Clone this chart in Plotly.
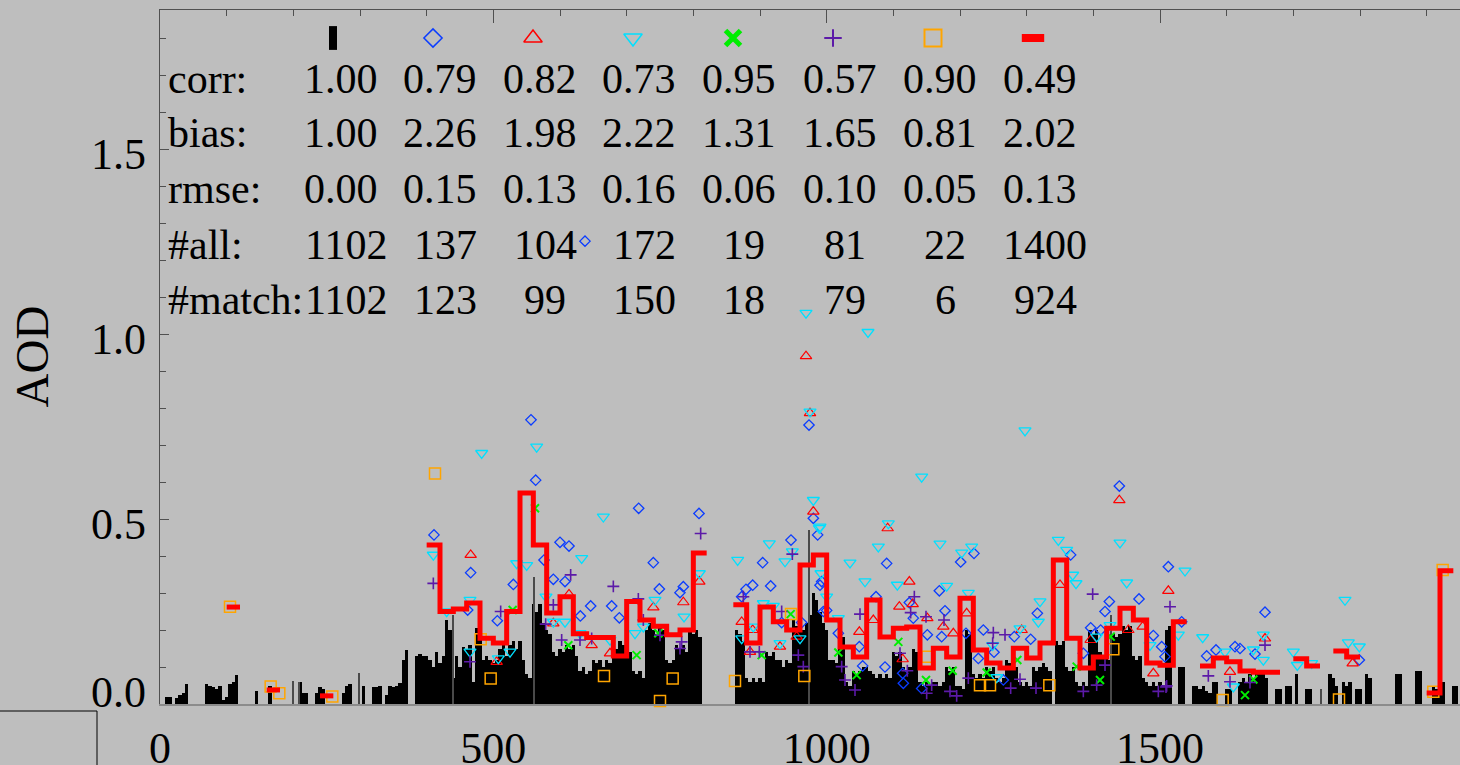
import plotly.graph_objects as go

# ---------------- data ----------------
# black reference series (AOD), sampled on a 5-unit grid from 0 to 1945
black_step = 5
black_y = [
    0, 0, 0.02, 0.02, 0, 0.015, 0.025, 0.03, 0.055, 0, 0, 0, 0, 0, 0.055, 0.05, 0.045, 0.04, 0.05, 0.01,
    0.02, 0.055, 0.06, 0.078, 0, 0, 0, 0, 0, 0.036, 0, 0, 0, 0.05, 0, 0, 0, 0, 0, 0,
    0, 0, 0.06, 0.03, 0.03, 0, 0, 0.03, 0.047, 0.04, 0, 0, 0, 0, 0, 0.03, 0.05, 0.055, 0, 0,
    0, 0.05, 0, 0, 0.046, 0.045, 0.048, 0, 0.025, 0.05, 0.045, 0.05, 0.056, 0.12, 0.146, 0, 0, 0.13, 0.135, 0.13,
    0.13, 0.12, 0.1, 0.14, 0.11, 0.13, 0.227, 0.2, 0.07, 0.13, 0.1, 0.155, 0.15, 0.16, 0.06, 0.205, 0.2, 0.12, 0.13, 0.12,
    0.11, 0.12, 0.15, 0.17, 0.13, 0.16, 0.17, 0.15, 0.17, 0.12, 0.08, 0.07, 0.27, 0.25, 0.27, 0.22, 0.2, 0.19, 0.14, 0.13,
    0.15, 0.14, 0.16, 0.15, 0.16, 0.13, 0.09, 0.1, 0.08, 0.09, 0.12, 0.11, 0.12, 0.1, 0.12, 0.11, 0.17, 0.15, 0.17, 0.16,
    0.17, 0.14, 0.09, 0.08, 0.09, 0.07, 0.2, 0.22, 0.2, 0.19, 0.21, 0.2, 0.12, 0.11, 0.12, 0.16, 0.15, 0.16, 0.14, 0.2,
    0.19, 0.2, 0.18, 0, 0, 0, 0, 0, 0, 0, 0, 0, 0, 0.2, 0.19, 0.17, 0.07, 0.06, 0.07, 0.06,
    0.07, 0.06, 0.14, 0.13, 0.14, 0.12, 0.12, 0.1, 0.12, 0.11, 0.23, 0.21, 0.23, 0.2, 0.22, 0.24, 0.3, 0.28, 0.25, 0.22,
    0.2, 0.12, 0.12, 0.11, 0.2, 0.18, 0.06, 0.05, 0.09, 0.08, 0.09, 0.1, 0.1, 0.09, 0.08, 0.07, 0.08, 0.07, 0.08, 0.07,
    0.14, 0.13, 0.14, 0.1, 0.09, 0.1, 0.15, 0.14, 0.06, 0.05, 0.06, 0.05, 0.06, 0.06, 0.05, 0.06, 0.1, 0.09, 0.1, 0.05,
    0.05, 0.04, 0.2, 0.19, 0.08, 0.07, 0.08, 0.07, 0.1, 0.09, 0.1, 0.07, 0.06, 0.07, 0.12, 0.11, 0.12, 0.1, 0.06, 0.05,
    0.06, 0.05, 0.1, 0.09, 0.1, 0.11, 0.1, 0.09, 0, 0.17, 0.16, 0.17, 0.1, 0.09, 0.1, 0.06, 0.05, 0.06, 0.05, 0.2,
    0.19, 0.2, 0.14, 0.13, 0.14, 0.12, 0.19, 0.18, 0.19, 0.21, 0.2, 0.21, 0.13, 0.12, 0.13, 0.07, 0.06, 0.05, 0.06, 0.05,
    0.06, 0.05, 0.2, 0.21, 0, 0, 0.1, 0.1, 0, 0, 0.05, 0.05, 0.04, 0.05, 0.035, 0.03, 0.06, 0.06, 0, 0,
    0.04, 0.04, 0, 0, 0.06, 0.07, 0.06, 0.08, 0.07, 0.08, 0.09, 0.08, 0.07, 0, 0, 0.04, 0.04, 0, 0.05, 0.05,
    0, 0.08, 0, 0, 0.04, 0.04, 0, 0, 0, 0, 0, 0.08, 0.07, 0.05, 0, 0.06, 0.05, 0.06, 0, 0.04,
    0.04, 0, 0.08, 0.07, 0, 0, 0, 0, 0, 0, 0, 0.08, 0.08, 0, 0, 0, 0, 0.09, 0.09, 0,
    0, 0, 0.05, 0.04, 0.06, 0.06, 0, 0, 0.05, 0.05,
]
black_x = [i * black_step for i in range(len(black_y))]

# isolated thin (single-day) spikes
thin_x = [200, 209, 299, 440, 561, 973, 1427, 1742]
thin_y = [0.063, 0.06, 0.083, 0.24, 0.344, 0.47, 0.24, 0.04]

diam_x = [556.5, 563.5, 411, 466, 506, 530, 600, 613.5, 576, 590, 607.5, 630.5, 646, 677.5, 689, 718, 740, 749,
          780, 785, 808.5, 872.5, 879, 889, 904, 916, 946.5, 973.5, 980, 986.5, 990, 962.5, 932.5, 461.5, 995, 637.5,
          992.5, 1000, 1017.5, 1049, 1054, 1074, 1090, 1087.5, 1114, 1124, 1130, 1151, 1169, 1177.5, 1172.5, 1201,
          1221, 1209, 1235, 1251, 1227.5, 1281.5, 1306, 1316, 1366, 1385, 1396, 1411, 1417.5, 1424, 1439, 1468.5,
          1490, 1502.5, 1507.5, 1512.5, 1532.5, 1570, 1584, 1612.5, 1620, 1642.5, 1657.5, 1142.5, 1115, 1265, 1799]
diam_y = [0.768, 0.605, 0.457, 0.355, 0.225, 0.323, 0.437, 0.427, 0.389, 0.337, 0.331, 0.238, 0.265, 0.265, 0.233,
          0.529, 0.382, 0.311, 0.301, 0.317, 0.515, 0.29, 0.31, 0.321, 0.382, 0.319, 0.443, 0.754, 0.502, 0.457,
          0.321, 0.22, 0.22, 0.254, 0.25, 1.251,
          0.331, 0.253, 0.191, 0.155, 0.103, 0.29, 0.38, 0.1, 0.083, 0.274, 0.232, 0.187, 0.306, 0.252, 0.182, 0.384,
          0.407, 0.191, 0.2, 0.14, 0.123, 0.182, 0.175, 0.245, 0.403, 0.137, 0.206, 0.2, 0.25, 0.277, 0.589, 0.284,
          0.185, 0.155, 0.128, 0.371, 0.222, 0.13, 0.146, 0.155, 0.15, 0.135, 0.248, 0.042, 0.056, 0.065, 0.119]

tri_x = [466, 505, 613.5, 590, 740, 785, 809, 980, 872.5, 889, 885, 930, 975, 647.5, 675, 955, 969,
         1091.5, 1124, 1049, 1070, 1109, 1114, 1129, 1151, 1175, 1190, 1210, 1292.5, 1350, 1396, 1439, 1452.5,
         1474, 1490, 1512.5, 1657.5, 1605, 1789]
tri_y = [0.403, 0.114, 0.296, 0.218, 0.261, 0.275, 0.331, 0.52, 0.222, 0.2, 0.141, 0.155, 0.786, 0.159, 0.137,
         0.182, 0.94,
         0.475, 0.331, 0.195, 0.227, 0.263, 0.121, 0.27, 0.232, 0.209, 0.191, 0.245, 0.2, 0.322, 0.173, 0.551, 0.2,
         0.209, 0.083, 0.306, 0.177, 0.087, 0.11]

inv_x = [482.5, 565, 410, 430, 465, 465, 507.5, 525, 535, 550, 579, 590, 607.5, 632.5, 665, 630, 675, 712.5, 725,
         742.5, 786, 809, 866.5, 914, 937.5, 948.5, 905, 920, 930, 960, 975, 980, 989, 991.5, 872.5, 890, 969, 1062,
         990, 1035, 1057.5, 1077.5, 1092.5, 1106, 1142.5, 1170, 1180, 1202.5, 1217.5, 1212.5, 1249, 1255, 1290,
         1297.5, 1320, 1317.5, 1347.5, 1360, 1369, 1374, 1405, 1440, 1450, 1485, 1537.5, 1564, 1527.5, 1597.5,
         1640, 1655, 1655, 1425, 1610, 1017.5, 1000, 1777.5, 1700, 1706, 1727.5, 1782.5, 1799]
inv_y = [0.678, 0.695, 0.403, 0.25, 0.281, 0.141, 0.123, 0.141, 0.38, 0.375, 0.29, 0.222, 0.222, 0.394, 0.506,
         0.191, 0.173, 0.191, 0.209, 0.281, 0.236, 0.353, 0.389, 0.434, 0.385, 0.412, 0.272, 0.265, 0.164, 0.177,
         0.79, 0.551, 0.475, 0.353, 0.177, 0.209, 1.057, 1.005,
         0.479, 0.382, 0.331, 0.425, 0.488, 0.322, 0.614, 0.433, 0.319, 0.409, 0.425, 0.3, 0.159, 0.072, 0.204,
         0.739, 0.277, 0.222, 0.443, 0.416, 0.349, 0.326, 0.182, 0.436, 0.328, 0.159, 0.36, 0.18, 0.187, 0.141,
         0.147, 0.187, 0.119, 0.213, 0.047, 0.232, 0.29, 0.281, 0.141, 0.105, 0.11, 0.166, 0.155]

x_x = [562.5, 612.5, 715, 747.5, 946, 902.5, 529, 1017.5, 1045, 1107.5, 1149, 1189, 1240, 1286, 1375, 1410,
       1627.5, 1640, 1426]
x_y = [0.529, 0.159, 0.132, 0.191, 0.243, 0.132, 0.254, 0.139, 0.078, 0.168, 0.065, 0.09, 0.085, 0.119, 0.101,
       0.065, 0.024, 0.066, 0.182]

plus_x = [410, 465, 511, 590, 616, 602.5, 630, 647.5, 578.5, 680, 717.5, 750, 780, 782.5, 811, 875, 885, 899,
          932.5, 948.5, 957.5, 965, 725,
          1050, 1022.5, 1027.5, 1042.5, 1110, 1131.5, 1126, 1149, 1176, 1157.5, 1150, 1185, 1195, 1212.5, 1250,
          1267.5, 1249, 1276, 1290, 1314, 1385, 1399, 1405, 1417.5, 1497.5, 1510, 1515, 1572.5, 1605, 1635, 1657.5,
          1121, 1509]
plus_y = [0.326, 0.114, 0.25, 0.268, 0.349, 0.173, 0.173, 0.177, 0.216, 0.318, 0.284, 0.186, 0.15, 0.168, 0.461,
          0.29, 0.141, 0.141, 0.25, 0.405, 0.132, 0.101, 0.227,
          0.243, 0.101, 0.065, 0.038, 0.137, 0.29, 0.247, 0.236, 0.227, 0.051, 0.029, 0.034, 0.022, 0.07, 0.193,
          0.187, 0.164, 0.043, 0.067, 0.043, 0.034, 0.297, 0.051, 0.105, 0.034, 0.049, 0.263, 0.076, 0.06, 0.058,
          0.159, 0.09, 0.046]

sq_x = [412.5, 481, 496, 666, 769, 750, 862.5, 966.5, 946.5, 105, 166, 179, 258.5, 1151, 1230, 1245, 1334, 1430,
        1594, 1768.5, 1924, 1910]
sq_y = [0.623, 0.175, 0.069, 0.076, 0.069, 0.008, 0.062, 0.076, 0.243, 0.263, 0.047, 0.029, 0.02, 0.128, 0.051,
        0.051, 0.051, 0.148, 0.011, 0.012, 0.362, 0.033]

# red binned (20-unit) step series; None separates segments, last point closes each bin
red_x = [100, 120, None, 160, 180, None, 240, 260, None,
         400, 420, 440, 460, 480, 500, 520, 540, 560, 580, 600, 620, 640, 660, 680, 700, 720, 740, 760, 780, 800, 820,
         None,
         860, 880, 900, 920, 940, 960, 980, 1000, 1020, 1040, 1060, 1080, 1100, 1120, 1140, 1160, 1180, 1200, 1220,
         1240, 1260, 1280, 1300, 1320, 1340, 1360, 1380, 1400, 1420, 1440, 1460, 1480, 1500, 1520, 1540,
         None, 1560, 1580, 1600, 1620, 1640, 1660, 1680,
         None, 1700, 1720, 1740,
         None, 1760, 1780, 1800,
         None, 1900, 1920, 1940]
red_y = [0.262, 0.262, None, 0.038, 0.038, None, 0.022, 0.022, None,
         0.43, 0.25, 0.257, 0.273, 0.178, 0.165, 0.25, 0.57, 0.43, 0.246, 0.29, 0.19, 0.18, 0.18, 0.13, 0.277, 0.227,
         0.21, 0.187, 0.2, 0.408, 0.408,
         None,
         0.268, 0.165, 0.262, 0.222, 0.2, 0.376, 0.403, 0.227, 0.154, 0.127, 0.281, 0.181, 0.205, 0.208, 0.097,
         0.151, 0.127, 0.286, 0.146, 0.111, 0.097, 0.151, 0.124, 0.165, 0.389, 0.178, 0.097, 0.127, 0.205, 0.259,
         0.227, 0.111, 0.105, 0.222, 0.222,
         None, 0.103, 0.124, 0.114, 0.089, 0.086, 0.086, 0.086,
         None, 0.122, 0.103, 0.103,
         None, 0.143, 0.127, 0.127,
         None, 0.03, 0.36, 0.36]

# statistics table
row_labels = ["corr:", "bias:", "rmse:", "#all:", "#match:"]
corr = ["1.00", "0.79", "0.82", "0.73", "0.95", "0.57", "0.90", "0.49"]
bias = ["1.00", "2.26", "1.98", "2.22", "1.31", "1.65", "0.81", "2.02"]
rmse = ["0.00", "0.15", "0.13", "0.16", "0.06", "0.10", "0.05", "0.13"]
n_all = [1102, 137, 104, 172, 19, 81, 22, 1400]
n_match = [1102, 123, 99, 150, 18, 79, 6, 924]

x_ticks = [0, 500, 1000, 1500]
y_ticks = [0.0, 0.5, 1.0, 1.5]
y_tick_text = ["0.0", "0.5", "1.0", "1.5"]

# ---------------- styling / layout constants ----------------
BG = "#bebebe"
FONT = "Liberation Serif"
C_BLUE, C_RED, C_CYAN, C_GREEN, C_PURP, C_ORNG = "#0a3cff", "#ff0000", "#00e0ff", "#00ee00", "#5c1aa8", "#ffa500"
W, H = 1460, 765
L, R, T, B = 160, 0, 10, 61
X_RANGE = [0, 1950]
Y_RANGE = [0, (H - B - T) / 370.0]
Y_LABEL_LIFT = [0.046, 0, 0, 0]      # the lowest y label sits raised above the x axis

col_px = [341, 440, 540, 639, 739, 840, 940, 1040]     # centre of each column (pixels)
int_shift = 5                                           # integer rows sit slightly right
row_py = [78.5, 133.5, 189, 244.5, 300]                 # text rows (pixels from top)
sym_py = 38
label_px = 166


def paper_x(px):
    return (px - L) / (W - L - R)


def paper_y(py):
    return (H - B - py) / (H - B - T)


fig = go.Figure()

fig.add_trace(go.Bar(x=black_x, y=black_y, width=black_step, marker=dict(color="black", line=dict(width=0)),
                     showlegend=False, hoverinfo="skip"))
fig.add_trace(go.Bar(x=thin_x, y=thin_y, width=1.2, marker=dict(color="#4a4a4a", line=dict(width=0)),
                     showlegend=False, hoverinfo="skip"))


def sc(x, y, symbol, color, size, lw):
    return go.Scatter(x=x, y=y, mode="markers", showlegend=False, cliponaxis=False,
                      marker=dict(symbol=symbol, size=size, color=color, line=dict(color=color, width=lw)))


fig.add_trace(sc(diam_x, diam_y, "diamond-open", C_BLUE, 8, 1.3))
fig.add_trace(sc(tri_x, tri_y, "triangle-up-open", C_RED, 10, 1.2))
fig.add_trace(sc(inv_x, inv_y, "triangle-down-open", C_CYAN, 10.5, 1.3))
fig.add_trace(sc(x_x, x_y, "x-thin-open", C_GREEN, 8, 2))
fig.add_trace(sc(plus_x, plus_y, "cross-thin-open", C_PURP, 8.5, 1.6))
fig.add_trace(sc(sq_x, sq_y, "square-open", C_ORNG, 11, 1.5))
fig.add_trace(go.Scatter(x=red_x, y=red_y, mode="lines", line=dict(color=C_RED, width=5, shape="hv"),
                         connectgaps=False, showlegend=False))

# symbol key row (pixel-space overlay axes)
key = [("line-ns-open", "black", 17, 8), ("diamond-open", C_BLUE, 14, 1.5), ("triangle-up-open", C_RED, 16, 1.5),
       ("triangle-down-open", C_CYAN, 16, 1.5), ("x-thin-open", C_GREEN, 15, 5), ("cross-thin-open", C_PURP, 12.5, 2),
       ("square-open", C_ORNG, 17, 2), ("line-ew-open", C_RED, 16, 8)]
sym_px = [333, 433, 533, 633, 733, 833, 933, 1033]
for (sym, col, sz, lw), px in zip(key, sym_px):
    fig.add_trace(go.Scatter(x=[px], y=[sym_py], mode="markers", xaxis="x3", yaxis="y3", showlegend=False,
                             cliponaxis=False,
                             marker=dict(symbol=sym, size=sz, color=col, line=dict(color=col, width=lw))))

# invisible traces carrying the top axis and the y-label axis
fig.add_trace(go.Scatter(x=[X_RANGE[0]], y=[0], xaxis="x2", mode="markers", marker=dict(opacity=0),
                         showlegend=False, hoverinfo="skip"))
fig.add_trace(go.Scatter(x=[X_RANGE[0]], y=[0], yaxis="y4", mode="markers", marker=dict(opacity=0),
                         showlegend=False, hoverinfo="skip"))

ann = []
tf = dict(family=FONT, size=42, color="black")
for lab, py in zip(row_labels, row_py):
    ann.append(dict(x=paper_x(label_px), y=paper_y(py), xref="paper", yref="paper", text=lab, showarrow=False,
                    xanchor="left", yanchor="middle", font=tf))
for r, vals in enumerate([corr, bias, rmse]):
    for c, v in enumerate(vals):
        ann.append(dict(x=paper_x(col_px[c]), y=paper_y(row_py[r]), xref="paper", yref="paper", text=v,
                        showarrow=False, xanchor="center", yanchor="middle", font=tf))
for r, vals in [(3, n_all), (4, n_match)]:
    for c, v in enumerate(vals):
        ann.append(dict(x=paper_x(col_px[c] + int_shift), y=paper_y(row_py[r]), xref="paper", yref="paper",
                        text=str(v), showarrow=False, xanchor="center", yanchor="middle", font=tf))
# y-axis title
ann.append(dict(x=paper_x(31), y=paper_y(356.5), xref="paper", yref="paper", text="AOD", textangle=-90,
                showarrow=False, xanchor="center", yanchor="middle", font=dict(family=FONT, size=47, color="black")))

axcol = "#505050"
fig.update_layout(
    width=W, height=H, margin=dict(l=L, r=R, t=T, b=B, autoexpand=False),
    paper_bgcolor=BG, plot_bgcolor=BG, template="none",
    barmode="overlay", bargap=0, showlegend=False,
    xaxis=dict(range=X_RANGE, tickvals=x_ticks, ticktext=[str(v) for v in x_ticks], ticks="",
               showline=True, linecolor="#8c8c8c", linewidth=2, showgrid=False, zeroline=False,
               tickfont=dict(family=FONT, size=44, color="black"), ticklabelstandoff=4, automargin=False),
    xaxis2=dict(range=X_RANGE, overlaying="x", side="top", anchor="y", showticklabels=False,
                ticks="inside", dtick=500, tick0=0, ticklen=13, tickcolor=axcol, tickwidth=1,
                minor=dict(dtick=100, tick0=0, ticks="inside", ticklen=6, tickcolor=axcol),
                showline=True, linecolor=axcol, linewidth=1, showgrid=False, zeroline=False, automargin=False),
    yaxis=dict(range=Y_RANGE, tickvals=y_ticks, showticklabels=False, ticks="inside", ticklen=9, tickcolor=axcol,
               minor=dict(dtick=0.1, tick0=0, ticks="inside", ticklen=6, tickcolor=axcol),
               showline=True, linecolor=axcol, linewidth=1, showgrid=False, zeroline=False, automargin=False),
    yaxis4=dict(range=Y_RANGE, overlaying="y", anchor="x", side="left",
                tickvals=[v + d for v, d in zip(y_ticks, Y_LABEL_LIFT)], ticktext=y_tick_text, ticks="",
                showline=False, showgrid=False, zeroline=False,
                tickfont=dict(family=FONT, size=44, color="black"), ticklabelstandoff=13, ticklabelshift=5,
                automargin=False),
    xaxis3=dict(range=[L, W - R], overlaying="x", visible=False, anchor="y3"),
    yaxis3=dict(range=[H - B, T], overlaying="y", visible=False, anchor="x3"),
    annotations=ann,
    shapes=[dict(type="rect", xref="paper", yref="paper", x0=paper_x(-10), x1=paper_x(97),
                 y0=paper_y(H + 10), y1=paper_y(711), line=dict(color="black", width=1), fillcolor="rgba(0,0,0,0)")],
)

fig.write_html("out.html", config={"displayModeBar": False},
               post_script="document.body.style.margin='0px';document.body.style.padding='0px';"
                           "document.body.style.overflow='hidden';")
